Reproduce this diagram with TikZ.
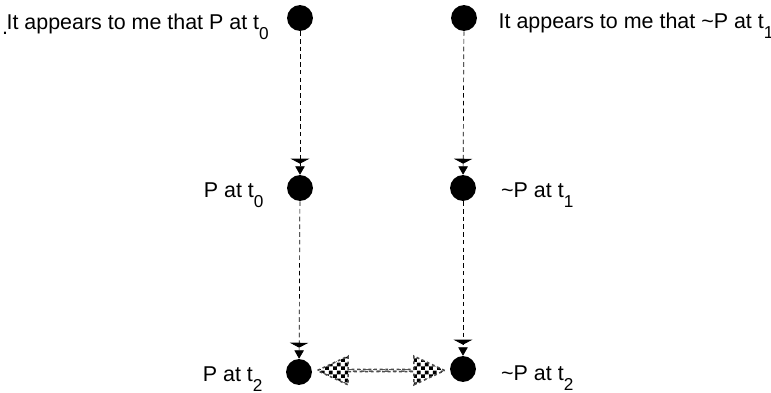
\documentclass[tikz,border=0pt]{standalone}
\usepackage{fontspec}
\setmainfont{Liberation Sans}
\usepackage{tikz}
\usetikzlibrary{positioning, arrows.meta, shapes.arrows, patterns}
\newcommand{\tsub}[1]{\raisebox{-5.6pt}{\fontsize{9.8}{10}\selectfont #1}}
\pgfdeclarepatternformonly{bigchecker}{\pgfqpoint{0pt}{0pt}}{\pgfqpoint{4.4pt}{4.4pt}}{\pgfqpoint{4.4pt}{4.4pt}}{%
  \pgfpathrectangle{\pgfqpoint{0pt}{0pt}}{\pgfqpoint{2.2pt}{2.2pt}}%
  \pgfpathrectangle{\pgfqpoint{2.2pt}{2.2pt}}{\pgfqpoint{2.2pt}{2.2pt}}%
  \pgfusepath{fill}}

\begin{document}
\begin{tikzpicture}[
    x=0.2mm, y=-0.2mm,
    > = {Triangle[width=10.5pt, length=2.8pt, sep=1.5pt] Triangle[width=5.4pt, length=4.8pt]}, % striped heads
    node distance = 13pt,
    dot/.style={circle, fill, inner sep=0pt, minimum size=14.7pt},
    txt/.style={font=\fontsize{12.2}{14}\selectfont, inner sep=0pt},
    link/.style={->, thin, dash pattern=on 2.6pt off 1.8pt},
    dblarrow/.style={double arrow, minimum height=72.5pt, minimum width=16.4pt,
        double arrow head extend=5.6pt, double arrow tip angle=50, inner sep=0pt,
        pattern=bigchecker, pattern color=black,
        draw=black!70, dash pattern=on 1.6pt off 1.6pt, line width=0.9pt}
]
\useasboundingbox (0,0) rectangle (771,393);

% --- the dots ---
\node[dot] (p0) at (300,18) {};
\node[dot] (q0) at (464,18) {};
\node[dot] (p1) at (300,188) {};
\node[dot] (q1) at (463,188) {};
\node[dot] (p2) at (299,372) {};
\node[dot] (q2) at (463,369) {};

% --- labels on the left ---
\node[txt, anchor=base] (stray) at (5,34) {.};
\node[txt, left=10pt of p0, anchor=base east, yshift=-6.6pt] (lp0) {It appears to me that P at t\tsub{0}};
\node[txt, left=13pt of p1, anchor=base east, yshift=-5.6pt] (lp1) {P at t\tsub{0}};
\node[txt, left=13pt of p2, anchor=base east, yshift=-5.6pt] (lp2) {P at t\tsub{2}};

% --- labels on the right ---
\node[txt, right=12pt of q0, anchor=base west, yshift=-5.8pt] (lq0) {It appears to me that \textasciitilde P at t\tsub{1}};
\node[txt, right=14pt of q1, anchor=base west, yshift=-5.6pt] (lq1) {\textasciitilde P at t\tsub{1}};
\node[txt, right=14pt of q2, anchor=base west, yshift=-6.4pt] (lq2) {\textasciitilde P at t\tsub{2}};

% --- dashed links ---
\draw[link] (p0) -- (p1);
\draw[link] (p1) -- (p2);
\draw[link] (q0) -- (q1);
\draw[link] (q1) -- (q2);

% --- checkered double arrow ---
\path (p2.east) -- node[dblarrow] (both) {} (q2.west);

\end{tikzpicture}
\end{document}
